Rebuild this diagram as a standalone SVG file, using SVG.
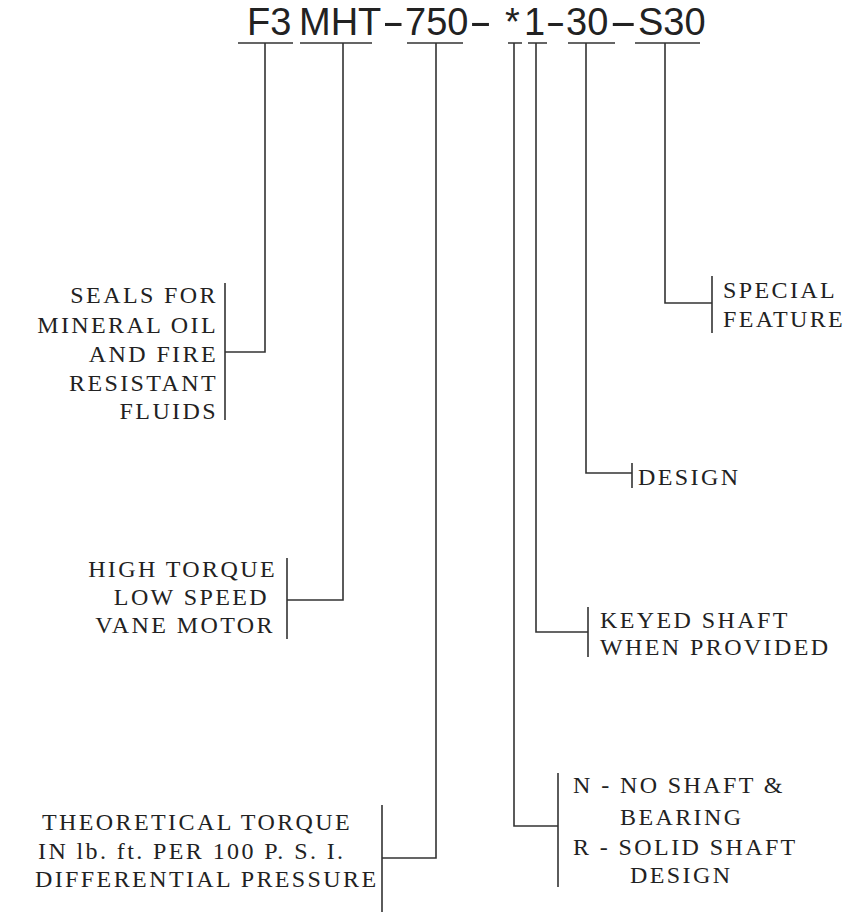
<svg xmlns="http://www.w3.org/2000/svg" width="856" height="918" viewBox="0 0 856 918">
<style>
.t{font-family:"Liberation Sans",Arial,sans-serif;font-size:38px;fill:#222}
.l{font-family:"Liberation Serif","Times New Roman",serif;font-size:24px;letter-spacing:2.4px;fill:#222}
.e{text-anchor:end}
.ln{stroke:#333;stroke-width:1.6;fill:none}
</style>
<rect width="856" height="918" fill="#fff"/>
<g id="code">
<text class="t" y="35"><tspan x="247">F3</tspan><tspan x="299">MHT</tspan><tspan x="382" textLength="22.5" lengthAdjust="spacingAndGlyphs">-</tspan><tspan x="405">750</tspan><tspan x="469" textLength="23" lengthAdjust="spacingAndGlyphs">-</tspan><tspan x="505">*</tspan><tspan x="524">1</tspan><tspan x="545.5" textLength="20" lengthAdjust="spacingAndGlyphs">-</tspan><tspan x="566">30</tspan><tspan x="609" textLength="28.5" lengthAdjust="spacingAndGlyphs">-</tspan><tspan x="638">S30</tspan></text>
<path class="ln" d="M238 43H293M300 43H372M407 43H463M508 43H522M528 43H547M568 43H615M635 43H700"/>
</g>
<g id="connectors">
<path class="ln" d="M265 43V352H225"/>
<path class="ln" d="M343 43V600H287"/>
<path class="ln" d="M436 43V858H382"/>
<path class="ln" d="M514 43V826H558"/>
<path class="ln" d="M536 43V632H588"/>
<path class="ln" d="M586 43V473H632"/>
<path class="ln" d="M665 43V303H712"/>
</g>
<g id="seals">
<path class="ln" d="M225 283V420"/>
<text class="l e" x="218" y="303">SEALS FOR</text>
<text class="l e" x="218" y="333">MINERAL OIL</text>
<text class="l e" x="218" y="362">AND FIRE</text>
<text class="l e" x="218" y="391">RESISTANT</text>
<text class="l e" x="218" y="419">FLUIDS</text>
</g>
<g id="motor">
<path class="ln" d="M287 558V639"/>
<text class="l e" x="277" y="577">HIGH TORQUE</text>
<text class="l e" x="269" y="605">LOW SPEED</text>
<text class="l e" x="275" y="633">VANE MOTOR</text>
</g>
<g id="torque">
<path class="ln" d="M382 805V912"/>
<text class="l" x="42" y="830">THEORETICAL TORQUE</text>
<text class="l" x="38" y="859">IN lb. ft. PER 100 P. S. I.</text>
<text class="l" x="35" y="887">DIFFERENTIAL PRESSURE</text>
</g>
<g id="shaft">
<path class="ln" d="M558 773V887"/>
<text class="l" x="573" y="793">N - NO SHAFT &amp;</text>
<text class="l" x="620" y="825">BEARING</text>
<text class="l" x="573" y="855">R - SOLID SHAFT</text>
<text class="l" x="630" y="883">DESIGN</text>
</g>
<g id="keyed">
<path class="ln" d="M588 607V657"/>
<text class="l" x="600" y="628">KEYED SHAFT</text>
<text class="l" x="600" y="655">WHEN PROVIDED</text>
</g>
<g id="design">
<path class="ln" d="M632 463V488"/>
<text class="l" x="638" y="485">DESIGN</text>
</g>
<g id="special">
<path class="ln" d="M712 276V333"/>
<text class="l" x="723" y="298">SPECIAL</text>
<text class="l" x="723" y="327">FEATURE</text>
</g>
</svg>
